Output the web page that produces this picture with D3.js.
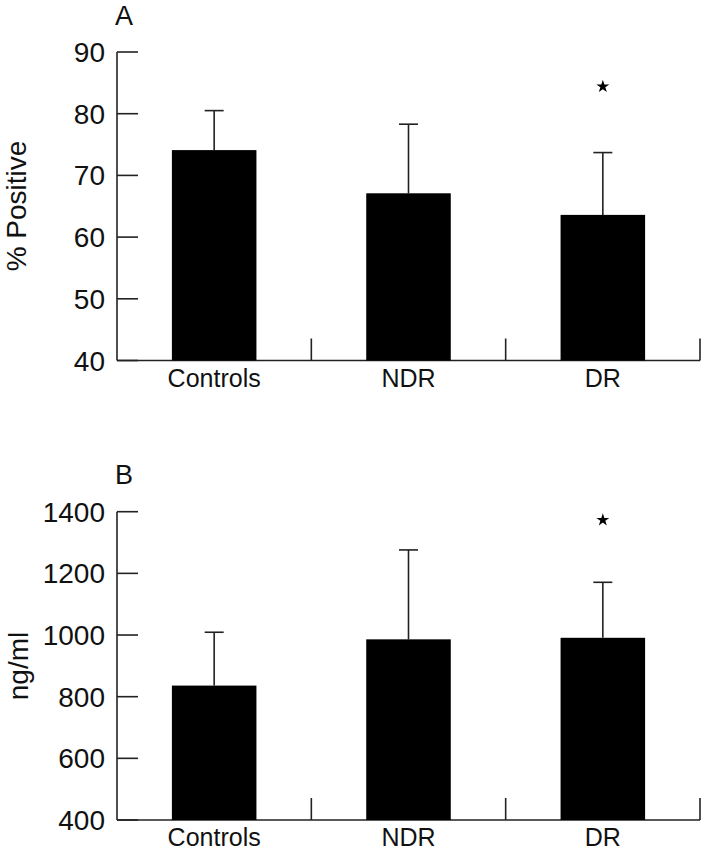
<!DOCTYPE html>
<html>
<head>
<meta charset="utf-8">
<script src="https://cdn.jsdelivr.net/npm/d3@7"></script>
<style>
  html, body { margin: 0; padding: 0; background: #fff; }
  svg { display: block; }
  text { font-family: "Liberation Sans", "DejaVu Sans", sans-serif; fill: #111; }
</style>
</head>
<body>
<svg id="chart" width="701" height="853"></svg>
<script>
// ---- data ----
const categories = ["Controls", "NDR", "DR"];

const panelALabel = "A";
const panelAYLabel = "% Positive";
const panelAMeans = [74.1, 67.1, 63.6];
const panelAErrTop = [80.5, 78.3, 73.7];
const panelATicks = [40, 50, 60, 70, 80, 90];
const panelAStar = [null, null, 84.4];

const panelBLabel = "B";
const panelBYLabel = "ng/ml";
const panelBMeans = [836, 986, 991];
const panelBErrTop = [1009, 1276, 1171];
const panelBTicks = [400, 600, 800, 1000, 1200, 1400];
const panelBStar = [null, null, 1373];

// ---- drawing ----
const svg = d3.select("#chart");
const axisColor = "#222";
const xLeft = 117, xRight = 700;

const x = d3.scaleBand().domain(categories).range([xLeft, xRight]).padding(0);
const barW = x.bandwidth() * 0.435;

function panel(opt) {
  const g = svg.append("g");
  const y = d3.scaleLinear().domain(opt.domain).range([opt.bottom, opt.top]);

  // panel letter
  g.append("text").attr("x", 115).attr("y", opt.letterY)
    .attr("font-size", 27).text(opt.letter);

  // y label
  g.append("text")
    .attr("transform", `translate(${opt.yLabelX},${opt.yLabelY}) rotate(-90)`)
    .attr("text-anchor", "middle").attr("font-size", 28).text(opt.yLabel);

  // y axis line
  g.append("line").attr("x1", xLeft).attr("x2", xLeft)
    .attr("y1", y(opt.domain[0])).attr("y2", y(opt.domain[1]))
    .attr("stroke", axisColor).attr("stroke-width", 1.6);

  // y ticks (inward) and labels
  opt.ticks.forEach(t => {
    g.append("line").attr("x1", xLeft).attr("x2", xLeft + 21)
      .attr("y1", y(t)).attr("y2", y(t))
      .attr("stroke", axisColor).attr("stroke-width", 1.6);
    g.append("text").attr("x", 105).attr("y", y(t))
      .attr("dy", "0.36em").attr("text-anchor", "end")
      .attr("font-size", 28).text(t);
  });

  // x axis line
  g.append("line").attr("x1", xLeft).attr("x2", xRight)
    .attr("y1", opt.bottom).attr("y2", opt.bottom)
    .attr("stroke", axisColor).attr("stroke-width", 1.6);

  // separator ticks
  categories.forEach(c => {
    const sx = x(c) + x.bandwidth();
    g.append("line").attr("x1", sx).attr("x2", sx)
      .attr("y1", opt.bottom).attr("y2", opt.bottom - 22)
      .attr("stroke", axisColor).attr("stroke-width", 1.6);
  });

  // bars
  categories.forEach((c, i) => {
    const cx = x(c) + x.bandwidth() / 2;
    // error bar
    g.append("line").attr("x1", cx).attr("x2", cx)
      .attr("y1", y(opt.means[i])).attr("y2", y(opt.err[i]))
      .attr("stroke", axisColor).attr("stroke-width", 1.6);
    g.append("line").attr("x1", cx - 9.5).attr("x2", cx + 9.5)
      .attr("y1", y(opt.err[i])).attr("y2", y(opt.err[i]))
      .attr("stroke", axisColor).attr("stroke-width", 1.6);
    g.append("rect").attr("x", cx - barW / 2).attr("width", barW)
      .attr("y", y(opt.means[i])).attr("height", y(opt.domain[0]) - y(opt.means[i]))
      .attr("fill", "#000");
    // label
    g.append("text").attr("x", cx).attr("y", opt.bottom + 26)
      .attr("text-anchor", "middle").attr("font-size", 25).text(c);
    // star
    if (opt.star[i] != null) {
      g.append("path").attr("d", d3.symbol(d3.symbolStar, 52)())
        .attr("transform", `translate(${cx},${y(opt.star[i])})`)
        .attr("fill", "#000");
    }
  });
}

panel({
  letter: panelALabel, letterY: 25, yLabel: panelAYLabel, yLabelX: 26, yLabelY: 206,
  domain: [40, 90], top: 52, bottom: 360.5,
  ticks: panelATicks, means: panelAMeans, err: panelAErrTop, star: panelAStar
});

panel({
  letter: panelBLabel, letterY: 484, yLabel: panelBYLabel, yLabelX: 28, yLabelY: 666,
  domain: [400, 1400], top: 511.7, bottom: 820,
  ticks: panelBTicks, means: panelBMeans, err: panelBErrTop, star: panelBStar
});
</script>
</body>
</html>
